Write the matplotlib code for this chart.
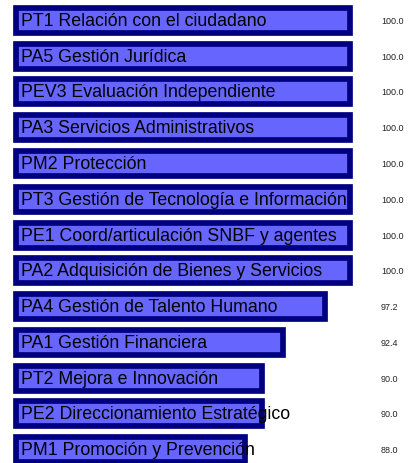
import matplotlib.pyplot as plt

categories = [
    "PT1 Relación con el ciudadano",
    "PA5 Gestión Jurídica",
    "PEV3 Evaluación Independiente",
    "PA3 Servicios Administrativos",
    "PM2 Protección",
    "PT3 Gestión de Tecnología e Información",
    "PE1 Coord/articulación SNBF y agentes",
    "PA2 Adquisición de Bienes y Servicios",
    "PA4 Gestión de Talento Humano",
    "PA1 Gestión Financiera",
    "PT2 Mejora e Innovación",
    "PE2 Direccionamiento Estratégico",
    "PM1 Promoción y Prevención",
]
values = [100.0, 100.0, 100.0, 100.0, 100.0, 100.0, 100.0, 100.0,
          97.2, 92.4, 90.0, 90.0, 88.0]

BASE = 61.8
FILL = "#6666ff"
EDGE = "#000080"

plt.rcParams['font.family'] = ['Liberation Sans', 'DejaVu Sans']

fig = plt.figure(figsize=(4.1, 4.64), dpi=100)
ax = fig.add_axes([0, 0, 1, 1])

ypos = list(range(len(categories)))
widths = [v - BASE for v in values]
ax.barh(ypos, widths, left=BASE, height=0.7, color=FILL,
        edgecolor=EDGE, linewidth=4.1)

for y, name, v in zip(ypos, categories, values):
    ax.text(BASE + 0.6, y, name, ha='left', va='center', fontsize=12.8,
            color='black')
    ax.text(0.929, y, f"{v:.1f}", ha='left', va='center', fontsize=6.5,
            color='#222222', transform=ax.get_yaxis_transform())

ax.set_xlim(60, 106.86)
ax.set_ylim(12.37, -0.595)
ax.axis('off')

fig.savefig('out.png', dpi=100)
